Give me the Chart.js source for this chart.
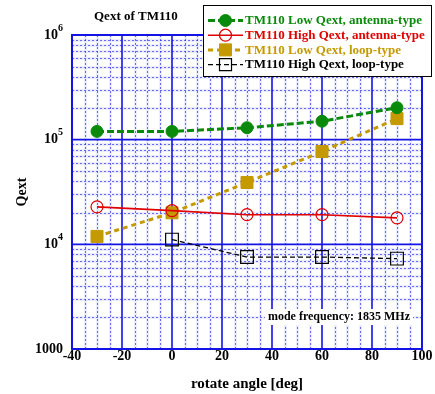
<!DOCTYPE html>
<html><head><meta charset="utf-8">
<script src="https://cdn.jsdelivr.net/npm/chart.js@4/dist/chart.umd.min.js"></script>
<style>html,body{margin:0;padding:0;background:#fff;}canvas{display:block;}</style>
</head><body>
<canvas id="c" width="435" height="394"></canvas>
<script>
const chartTitle = 'Qext of TM110';
const xTitle = 'rotate angle [deg]';
const yTitle = 'Qext';
const noteText = 'mode frequency: 1835 MHz';
const angles = [-30, 0, 30, 60, 90];
const lowQextAntenna  = [120000, 120000, 130000, 150000, 202000];
const highQextAntenna = [22800, 21000, 19200, 19200, 17900];
const lowQextLoop     = [11900, 20000, 39000, 77000, 159000];
const highQextLoop    = [null, 11100, 7560, 7560, 7300];
const seriesNames = ['TM110 Low Qext, antenna-type', 'TM110 High Qext, antenna-type',
                     'TM110 Low Qext, loop-type', 'TM110 High Qext, loop-type'];
const xTickValues = [-40, -20, 0, 20, 40, 60, 80, 100];
const yTickValues = [1000, 10000, 100000, 1000000];
const yTickBases = ['1000', '10', '10', '10'];
const yTickExps = ['', '4', '5', '6'];

const FONT = "'Liberation Serif', 'Times New Roman', serif";
const toPts = vals => angles.map((a, i) => ({x: a, y: vals[i]}));

const styles = [
  {color: '#0a8a0a', dash: [7, 3], width: 3, point: 'circle', radius: 6, fill: true},
  {color: '#e00000', dash: [], width: 1.6, point: 'circle', radius: 6, fill: false},
  {color: '#c49a00', dash: [5, 4], width: 3, point: 'rect', radius: 8.5, fill: true},
  {color: '#000000', dash: [5, 3], width: 1.3, point: 'rect', radius: 9, fill: false}
];
const seriesData = [lowQextAntenna, highQextAntenna, lowQextLoop, highQextLoop];

const datasets = seriesData.map((vals, i) => {
  const s = styles[i];
  return {
    label: seriesNames[i],
    data: toPts(vals),
    borderColor: s.color,
    borderWidth: s.width,
    borderDash: s.dash,
    pointStyle: s.point,
    pointRadius: s.radius,
    pointHoverRadius: s.radius,
    pointBorderColor: s.color,
    pointBackgroundColor: s.fill ? s.color : 'rgba(0,0,0,0)',
    pointBorderWidth: s.fill ? 1 : 1.2,
    fill: false,
    tension: 0
  };
});

function drawMarker(ctx, s, x, y) {
  ctx.save();
  ctx.setLineDash([]);
  ctx.lineWidth = s.fill ? 1 : 1.2;
  ctx.strokeStyle = s.color;
  ctx.fillStyle = s.color;
  ctx.beginPath();
  if (s.point === 'circle') {
    ctx.arc(x, y, s.radius, 0, Math.PI * 2);
  } else {
    const h = s.radius * Math.SQRT1_2;
    ctx.rect(x - h, y - h, 2 * h, 2 * h);
  }
  if (s.fill) ctx.fill();
  ctx.stroke();
  ctx.restore();
}

const gridPlugin = {
  id: 'gridPlugin',
  beforeDatasetsDraw(chart) {
    const {ctx, chartArea: a, scales: {x, y}} = chart;
    ctx.save();
    ctx.beginPath(); ctx.rect(a.left, a.top, a.width, a.height); ctx.clip();
    const minorV = [], majorV = [];
    for (let v = x.min; v <= x.max; v += 5) ((v % 20) ? minorV : majorV).push(x.getPixelForValue(v));
    const minorH = [], majorH = [];
    for (let d = y.min; d <= y.max; d *= 10) {
      majorH.push(y.getPixelForValue(d));
      if (d < y.max) for (let m = 2; m <= 9; m++) minorH.push(y.getPixelForValue(m * d));
    }
    ctx.lineWidth = 3;
    ctx.strokeStyle = 'rgba(170,170,255,0.22)';
    ctx.setLineDash([]);
    ctx.beginPath();
    minorV.forEach(p => { const q = Math.round(p) + 0.5; ctx.moveTo(q, a.top); ctx.lineTo(q, a.bottom); });
    minorH.forEach(p => { const q = Math.round(p) + 0.5; ctx.moveTo(a.left, q); ctx.lineTo(a.right, q); });
    ctx.stroke();
    ctx.lineWidth = 1;
    ctx.strokeStyle = 'rgba(50,50,235,0.7)';
    ctx.setLineDash([2, 2]);
    ctx.beginPath();
    minorV.forEach(p => { const q = Math.round(p) + 0.5; ctx.moveTo(q, a.top); ctx.lineTo(q, a.bottom); });
    minorH.forEach(p => { const q = Math.round(p) + 0.5; ctx.moveTo(a.left, q); ctx.lineTo(a.right, q); });
    ctx.stroke();
    ctx.setLineDash([]);
    ctx.lineWidth = 1.6;
    ctx.strokeStyle = '#1414e6';
    ctx.beginPath();
    majorV.forEach(p => { ctx.moveTo(p, a.top); ctx.lineTo(p, a.bottom); });
    majorH.forEach(p => { ctx.moveTo(a.left, p); ctx.lineTo(a.right, p); });
    ctx.stroke();
    ctx.restore();
    ctx.save();
    ctx.lineWidth = 2;
    ctx.strokeStyle = '#1414e6';
    ctx.strokeRect(a.left, a.top, a.width, a.height);
    ctx.restore();
  },
  afterDraw(chart) {
    const {ctx, chartArea: a, scales: {x, y}} = chart;
    ctx.save();
    ctx.fillStyle = '#000';
    ctx.textBaseline = 'middle';
    const rightX = a.left - 9;
    yTickValues.forEach((v, i) => {
      const py = y.getPixelForValue(v);
      ctx.font = 'bold 10px ' + FONT;
      const ew = yTickExps[i] ? ctx.measureText(yTickExps[i]).width : 0;
      if (yTickExps[i]) {
        ctx.textAlign = 'left';
        ctx.fillText(yTickExps[i], rightX - ew, py - 7);
      }
      ctx.font = 'bold 14px ' + FONT;
      ctx.textAlign = 'right';
      ctx.fillText(yTickBases[i], rightX - ew, py);
    });
    ctx.font = 'bold 13px ' + FONT;
    ctx.textAlign = 'left';
    ctx.fillText(chartTitle, 94, 17);
    ctx.font = 'bold 12px ' + FONT;
    const nw = ctx.measureText(noteText).width;
    const nx = a.right - 12 - nw, ny = 317;
    ctx.fillStyle = '#fff';
    ctx.fillRect(nx - 3, ny - 8, nw + 6, 16);
    ctx.fillStyle = '#000';
    ctx.fillText(noteText, nx, ny);
    const lx = 203, ly = 5, lw = 229, lh = 72;
    ctx.fillStyle = '#fff';
    ctx.fillRect(lx, ly, lw, lh);
    ctx.strokeStyle = '#000';
    ctx.lineWidth = 1;
    ctx.strokeRect(lx + 0.5, ly + 0.5, lw - 1, lh - 1);
    ctx.font = 'bold 13px ' + FONT;
    seriesNames.forEach((name, i) => {
      const s = styles[i];
      const ry = 20.5 + i * 14.7;
      ctx.save();
      ctx.strokeStyle = s.color;
      ctx.lineWidth = s.width;
      ctx.setLineDash(s.dash);
      ctx.beginPath(); ctx.moveTo(208, ry); ctx.lineTo(243, ry); ctx.stroke();
      ctx.restore();
      drawMarker(ctx, Object.assign({}, s, {radius: s.point === 'circle' ? 6 : 8.5}), 225.5, ry);
      ctx.fillStyle = s.color;
      ctx.textAlign = 'left';
      ctx.fillText(name, 245, ry + 0.5);
    });
    ctx.restore();
  }
};

new Chart(document.getElementById('c'), {
  type: 'line',
  data: {datasets},
  plugins: [gridPlugin],
  options: {
    responsive: false,
    animation: false,
    devicePixelRatio: 1,
    layout: {padding: {top: 35, right: 13, left: 0, bottom: 0}},
    plugins: {legend: {display: false}, tooltip: {enabled: false}, title: {display: false}},
    scales: {
      x: {
        type: 'linear', min: -40, max: 100,
        afterFit: s => { s.height = 45; },
        afterBuildTicks: s => { s.ticks = xTickValues.map(v => ({value: v})); },
        grid: {display: false, drawTicks: false},
        border: {display: false},
        ticks: {color: '#000', padding: -1, font: {family: FONT, size: 14, weight: 'bold'},
                callback: v => String(v), maxRotation: 0, autoSkip: false},
        title: {display: true, text: xTitle, color: '#000', padding: {top: 0, bottom: 1},
                font: {family: FONT, size: 15, weight: 'bold'}}
      },
      y: {
        type: 'logarithmic', min: 1000, max: 1000000,
        afterFit: s => { s.width = 72; },
        grid: {display: false, drawTicks: false},
        border: {display: false},
        ticks: {display: false},
        title: {display: true, text: yTitle, color: '#000', padding: {top: 14, bottom: 0},
                font: {family: FONT, size: 14, weight: 'bold'}}
      }
    }
  }
});
</script>
</body></html>
